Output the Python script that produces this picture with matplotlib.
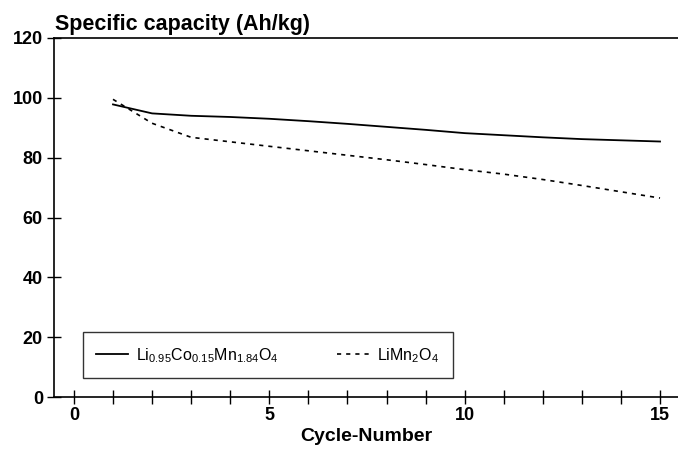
import matplotlib
matplotlib.use("Agg")
import matplotlib.pyplot as plt
from matplotlib.ticker import MultipleLocator

plt.rcParams['font.family'] = ['Liberation Sans', 'DejaVu Sans']
plt.rcParams['mathtext.fontset'] = 'custom'
plt.rcParams['mathtext.rm'] = 'Liberation Sans'

cycles = [1, 2, 3, 4, 5, 6, 7, 8, 9, 10, 11, 12, 13, 14, 15]
cap_doped = [97.8, 94.8, 94.0, 93.6, 93.0, 92.2, 91.3, 90.3, 89.3, 88.2,
             87.5, 86.8, 86.2, 85.8, 85.4]
cap_spinel = [99.5, 91.5, 86.8, 85.3, 83.8, 82.3, 80.8, 79.3, 77.7, 76.0,
              74.5, 72.7, 70.7, 68.6, 66.5]
label_doped = r'Li$_{\mathrm{0.95}}$Co$_{\mathrm{0.15}}$Mn$_{\mathrm{1.84}}$O$_{\mathrm{4}}$'
label_spinel = r'LiMn$_{\mathrm{2}}$O$_{\mathrm{4}}$'

fig = plt.figure(figsize=(6.78, 4.55), dpi=100)
ax = fig.add_axes([54 / 678, 58 / 455, 1 - 54 / 678, 359 / 455])

ax.plot(cycles, cap_doped, color='black', lw=1.3, label=label_doped)
ax.plot(cycles, cap_spinel, color='black', lw=1.2, linestyle=(0, (2.5, 3)),
        label=label_spinel)

ax.set_xlim(-0.51, 15.46)
ax.set_ylim(0, 120)
ax.xaxis.set_major_locator(MultipleLocator(5))
ax.xaxis.set_minor_locator(MultipleLocator(1))
ax.yaxis.set_major_locator(MultipleLocator(20))
ax.tick_params(which='both', direction='inout', length=10, width=1, labelsize=13,
               pad=3)
for lab in ax.get_xticklabels() + ax.get_yticklabels():
    lab.set_fontweight('bold')
ax.tick_params(axis='x', pad=2)
ax.spines['right'].set_visible(False)
for s in ['left', 'top', 'bottom']:
    ax.spines[s].set_linewidth(1.2)

ax.set_xlabel('Cycle-Number', fontsize=14, fontweight='bold', labelpad=3)
fig.text(55 / 678, 1 - 30 / 455, 'Specific capacity (Ah/kg)', fontsize=15.5,
         fontweight='bold', va='baseline', ha='left')

leg = ax.legend(loc='lower left', bbox_to_anchor=(0.23, 6.3, 9.47, 14.7),
                bbox_transform=ax.transData, mode='expand', ncol=2,
                fontsize=11.5, frameon=True, fancybox=False, borderaxespad=0,
                borderpad=0.85, handlelength=2.0, handletextpad=0.5)
leg.get_frame().set_edgecolor('black')
leg.get_frame().set_linewidth(1.0)

fig.savefig('out.png', dpi=100)
